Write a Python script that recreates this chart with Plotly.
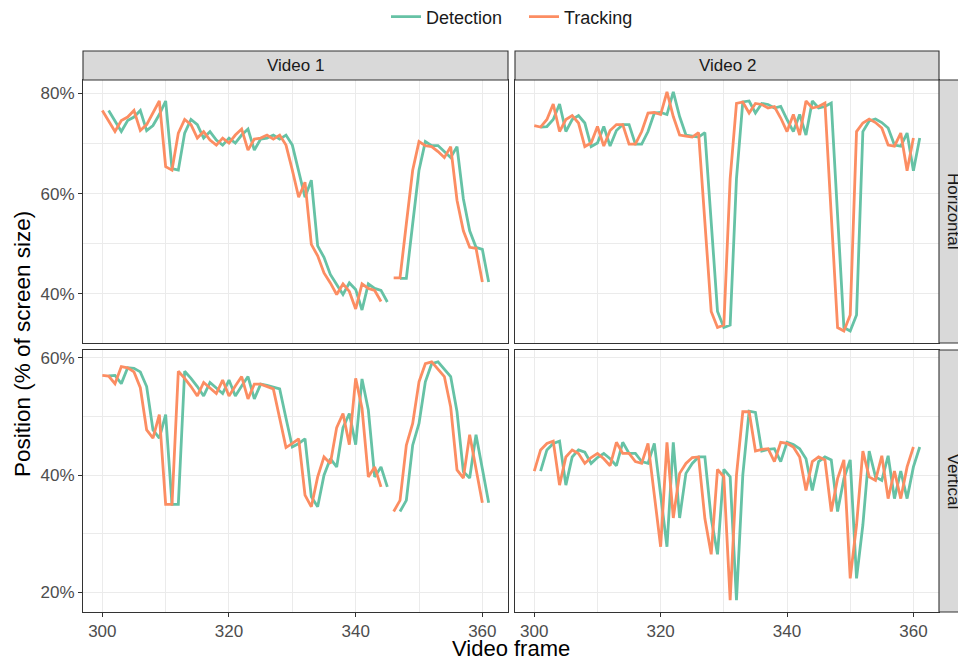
import plotly.graph_objects as go

# ---------------- data ----------------
frames = list(range(300, 362))  # video frames 300..361
N = None

v1_h_tracking = [76.6, 74.6, 72.4, 74.6, 75.3, 76.6, 72.6, 73.8, 76.1, 78.5,
                 65.4, 64.7, 72.1, 74.8, 73.8, 71.1, 72.4, 70.7, 69.7, 71.1,
                 70.1, 71.7, 72.9, 68.7, 70.9, 71.1, 71.7, 70.9, 71.7, 69.7,
                 64.7, 59.3, 62.3, 49.9, 47.6, 44.2, 42.2, 39.9, 42.0, 40.5,
                 37.0, 42.0, 41.1, 40.7, 38.5, N, 43.2, 43.2, 54.0, 64.7,
                 70.4, 69.6, 69.4, 68.4, 67.2, 69.4, 58.7, 52.6, 49.3, 49.1,
                 42.4, N]
v1_h_detection = [N, 76.6, 74.6, 72.4, 74.6, 75.3, 76.6, 72.6, 73.6, 75.8,
                  78.5, 65.0, 64.7, 72.1, 74.8, 73.8, 71.1, 72.4, 70.7, 69.7,
                  71.1, 70.1, 71.7, 72.9, 68.7, 70.9, 71.1, 71.7, 70.9, 71.7,
                  69.7, 64.7, 59.3, 62.7, 49.6, 47.3, 43.9, 41.9, 39.9, 42.2,
                  40.9, 36.8, 42.0, 41.1, 40.7, 38.4, N, 43.1, 43.1, 54.0,
                  64.7, 70.4, 69.6, 69.6, 68.4, 67.2, 69.4, 59.0, 52.6, 49.3,
                  48.9, 42.4]
v2_h_tracking = [73.6, 73.3, 74.8, 77.9, 72.4, 74.8, 75.6, 74.1, 69.4, 70.1,
                 73.4, 69.5, 72.6, 73.8, 73.8, 69.9, 69.9, 72.4, 76.1, 76.2,
                 75.8, 80.3, 75.4, 71.7, 71.5, 71.3, 72.2, 54.0, 36.5, 33.3,
                 33.8, 63.0, 78.0, 78.3, 76.1, 78.0, 77.8, 77.1, 77.4, 75.1,
                 72.4, 75.8, 71.7, 78.5, 77.1, 77.4, 78.1, 55.7, 33.3, 32.6,
                 35.8, 72.4, 74.1, 74.9, 74.2, 73.1, 69.7, 69.5, 72.1, 64.6,
                 71.1, N]
v2_h_detection = [N, 73.3, 73.4, 74.8, 77.9, 72.4, 74.8, 75.6, 74.1, 69.4,
                  70.1, 73.4, 69.5, 72.6, 73.8, 73.8, 69.9, 69.9, 72.4, 76.1,
                  76.2, 75.8, 80.3, 75.4, 71.7, 71.5, 71.3, 72.2, 54.0, 36.5,
                  33.3, 33.8, 63.0, 78.3, 78.5, 76.1, 78.0, 77.8, 77.1, 77.4,
                  74.8, 72.4, 75.8, 71.7, 78.5, 77.1, 77.4, 78.1, 55.7, 33.3,
                  32.6, 35.8, 72.4, 74.5, 74.9, 74.2, 73.1, 69.7, 69.5, 72.1,
                  64.6, 71.1]
v1_v_tracking = [57.0, 56.9, 55.6, 58.5, 58.3, 57.6, 54.9, 47.7, 46.3, 50.3,
                 35.0, 35.0, 57.7, 56.5, 55.1, 53.5, 55.8, 54.9, 53.9, 56.2,
                 53.5, 55.2, 56.8, 53.0, 55.5, 55.5, 55.1, 54.7, 49.7, 44.7,
                 45.4, 46.2, 36.6, 34.6, 39.7, 43.1, 42.0, 48.1, 50.5, 45.2,
                 56.5, 51.4, 39.7, 41.4, 38.0, N, 33.8, 35.7, 45.1, 48.8,
                 55.9, 59.0, 59.3, 58.1, 56.8, 51.6, 40.9, 39.5, 46.9, 41.1,
                 35.3, N]
v1_v_detection = [N, 56.9, 57.0, 55.6, 58.3, 58.2, 57.6, 55.1, 47.7, 46.3,
                  50.3, 35.0, 35.0, 57.7, 56.5, 55.1, 53.5, 55.8, 54.9, 53.9,
                  56.2, 53.5, 55.2, 56.8, 53.0, 55.5, 55.3, 55.0, 54.7, 49.7,
                  44.8, 45.4, 46.2, 36.3, 34.6, 40.0, 42.8, 41.4, 48.1, 50.5,
                  45.2, 56.4, 51.1, 39.7, 41.4, 38.0, N, 33.8, 35.7, 45.1,
                  48.8, 55.9, 59.0, 59.3, 58.1, 56.8, 50.8, 40.6, 39.5, 46.9,
                  41.1, 35.3]
v2_v_tracking = [40.7, 44.3, 45.4, 45.8, 38.3, 43.1, 44.3, 43.7, 42.0, 43.0,
                 43.7, 42.8, 41.6, 45.6, 43.7, 43.7, 42.3, 42.0, 45.4, 36.5,
                 27.8, 45.6, 32.7, 40.3, 42.0, 43.0, 43.1, 32.6, 26.5, 41.0,
                 39.7, 18.7, 40.0, 50.8, 50.8, 44.1, 44.4, 44.5, 42.3, 45.6,
                 45.4, 44.8, 43.1, 37.4, 42.3, 43.1, 42.6, 33.8, 39.4, 42.6,
                 22.4, 31.5, 44.1, 39.7, 39.1, 43.3, 36.0, 40.7, 36.0, 41.4,
                 44.8, N]
v2_v_detection = [N, 40.7, 44.3, 45.4, 45.8, 38.3, 43.1, 44.3, 43.9, 42.0,
                  43.0, 43.7, 42.8, 41.6, 45.6, 43.7, 43.7, 42.3, 42.0, 45.4,
                  36.5, 27.8, 45.6, 32.7, 40.3, 42.0, 43.1, 43.1, 32.6, 26.5,
                  41.0, 39.7, 18.7, 40.0, 50.9, 50.7, 44.1, 44.4, 44.5, 42.3,
                  45.6, 45.2, 44.5, 42.8, 37.4, 42.3, 43.1, 42.6, 33.8, 39.4,
                  42.6, 22.4, 31.5, 44.1, 39.7, 39.1, 43.3, 36.0, 40.7, 36.0,
                  41.4, 44.8]

video_labels = ["Video 1", "Video 2"]
direction_labels = ["Horizontal", "Vertical"]
series_names = ["Detection", "Tracking"]
series_colors = ["#66C2A5", "#FC8D62"]

panels = {
    (0, 0): [v1_h_detection, v1_h_tracking],
    (0, 1): [v2_h_detection, v2_h_tracking],
    (1, 0): [v1_v_detection, v1_v_tracking],
    (1, 1): [v2_v_detection, v2_v_tracking],
}

# ---------------- geometry (pixels) ----------------
W, H = 958, 659
ML, MR, MT, MB = 83, 19, 80, 47
PW = W - ML - MR
PH = H - MT - MB
col_px = [(83, 508), (515, 939)]
row_px = [(80, 343), (350, 612)]
STRIP = 29


def px_x(x):
    return (x - ML) / PW


def px_y(y):
    return (H - MB - y) / PH


def expand(vals_list, mult=0.05):
    vals = [v for vals in vals_list for v in vals if v is not None]
    lo, hi = min(vals), max(vals)
    d = (hi - lo) * mult
    return [lo - d, hi + d]


xr = expand([frames])
yr_rows = [expand(panels[(0, 0)] + panels[(0, 1)]),
           expand(panels[(1, 0)] + panels[(1, 1)])]

FONT = "Liberation Sans, Arial, Helvetica, sans-serif"
GRID = "#EBEBEB"
BORDER = "#333333"

fig = go.Figure()
layout = dict(
    width=W, height=H,
    margin=dict(l=ML, r=MR, t=MT, b=MB, autoexpand=False),
    paper_bgcolor="white", plot_bgcolor="white",
    font=dict(family=FONT, size=18, color="#1A1A1A"),
    showlegend=True,
    legend=dict(orientation="h", x=px_x(524), xanchor="center",
                y=px_y(17), yanchor="middle", font=dict(size=18, color="#1A1A1A"),
                bgcolor="rgba(0,0,0,0)", itemwidth=30, tracegroupgap=0,
                entrywidth=93, entrywidthmode="pixels"),
)

shapes = []
annotations = []
idx = 0
for r in range(2):
    for c in range(2):
        idx += 1
        sfx = "" if idx == 1 else str(idx)
        xa, ya = "x" + sfx, "y" + sfx
        for s in range(2):
            fig.add_trace(go.Scatter(
                x=frames, y=panels[(r, c)][s], mode="lines",
                line=dict(color=series_colors[s], width=2.8),
                name=series_names[s], legendgroup=series_names[s],
                showlegend=(idx == 1), connectgaps=False,
                xaxis=xa, yaxis=ya, hoverinfo="skip"))
        bottom = (r == 1)
        left = (c == 0)
        layout["xaxis" + sfx] = dict(
            domain=[px_x(col_px[c][0]), px_x(col_px[c][1])], anchor=ya,
            range=xr, tick0=300, dtick=20, showgrid=True, gridcolor=GRID, gridwidth=1.1,
            minor=dict(tick0=300, dtick=10, showgrid=True, gridcolor=GRID, gridwidth=0.6,
                       ticks=""),
            showline=True, mirror=True, linecolor=BORDER, linewidth=1.1,
            ticks="outside" if bottom else "", ticklen=4, tickwidth=1.1, tickcolor=BORDER,
            showticklabels=bottom, tickfont=dict(size=17, color="#4D4D4D"),
            zeroline=False, fixedrange=True)
        layout["yaxis" + sfx] = dict(
            domain=[px_y(row_px[r][1]), px_y(row_px[r][0])], anchor=xa,
            range=yr_rows[r], tick0=0, dtick=20, ticksuffix="%",
            showgrid=True, gridcolor=GRID, gridwidth=1.1,
            minor=dict(tick0=0, dtick=10, showgrid=True, gridcolor=GRID, gridwidth=0.6,
                       ticks=""),
            showline=True, mirror=True, linecolor=BORDER, linewidth=1.1,
            ticks="outside" if left else "", ticklen=4, tickwidth=1.1, tickcolor=BORDER,
            showticklabels=left, tickfont=dict(size=17, color="#4D4D4D"),
            zeroline=False, fixedrange=True)

# column strips
for c in range(2):
    x0, x1 = col_px[c]
    shapes.append(dict(type="rect", xref="paper", yref="paper",
                       x0=px_x(x0), x1=px_x(x1), y0=px_y(row_px[0][0]),
                       y1=px_y(row_px[0][0] - STRIP),
                       fillcolor="#D9D9D9", line=dict(color=BORDER, width=1.1),
                       layer="above"))
    annotations.append(dict(text=video_labels[c], xref="paper", yref="paper",
                            x=px_x((x0 + x1) / 2), y=px_y(row_px[0][0] - STRIP / 2),
                            xanchor="center", yanchor="middle", showarrow=False,
                            font=dict(size=17, color="#1A1A1A")))
# row strips
for r in range(2):
    y0, y1 = row_px[r]
    shapes.append(dict(type="rect", xref="paper", yref="paper",
                       x0=px_x(col_px[1][1]), x1=px_x(col_px[1][1] + STRIP),
                       y0=px_y(y1), y1=px_y(y0),
                       fillcolor="#D9D9D9", line=dict(color=BORDER, width=1.1),
                       layer="above"))
    annotations.append(dict(text=direction_labels[r], xref="paper", yref="paper",
                            x=px_x(col_px[1][1] + STRIP / 2), y=px_y((y0 + y1) / 2),
                            xanchor="center", yanchor="middle", showarrow=False,
                            textangle=90, font=dict(size=17, color="#1A1A1A")))

# axis titles
annotations.append(dict(text="Video frame", xref="paper", yref="paper",
                        x=px_x(511), y=px_y(648), xanchor="center", yanchor="middle",
                        showarrow=False, font=dict(size=22, color="black")))
annotations.append(dict(text="Position (% of screen size)", xref="paper", yref="paper",
                        x=px_x(22), y=px_y(344), xanchor="center", yanchor="middle",
                        textangle=-90, showarrow=False, font=dict(size=22.5, color="black")))

layout["shapes"] = shapes
layout["annotations"] = annotations
fig.update_layout(**layout)
fig.write_html("out.html")
